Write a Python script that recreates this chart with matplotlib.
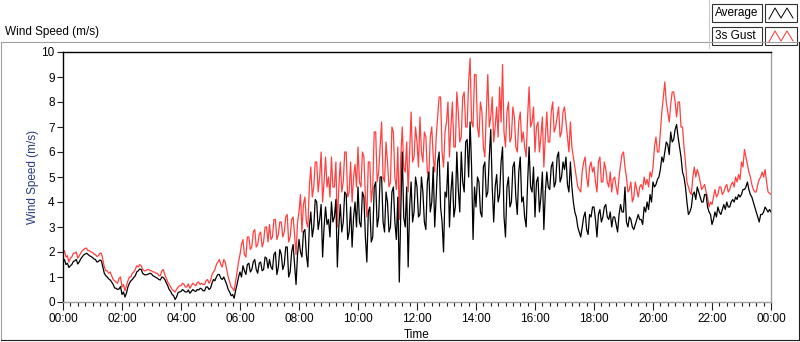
import numpy as np
import matplotlib
matplotlib.use("Agg")
import matplotlib.pyplot as plt
from matplotlib.patches import Rectangle
from matplotlib.lines import Line2D

# ---- data: one row per hour (samples evenly spread within the hour) ----
avg_rows = [
    [1.6, 1.7, 1.5, 1.55, 1.38, 1.45, 1.5, 1.62, 1.65, 1.7, 1.52, 1.6, 1.72, 1.8, 1.88, 1.92, 1.95, 1.9, 1.85, 1.82],
    [1.78, 1.72, 1.7, 1.6, 1.62, 1.68, 1.65, 1.4, 1.15, 1.05, 1.0, 0.92, 0.88, 0.8, 0.7, 0.56, 0.55, 0.5, 0.52, 0.62],
    [0.3, 0.4, 0.2, 0.35, 0.6, 0.75, 0.85, 0.9, 0.98, 1.05, 1.2, 1.25, 1.32, 1.3, 1.15, 1.1, 1.08, 1.1, 1.12, 1.15],
    [1.12, 1.05, 1.02, 0.98, 0.95, 0.9, 0.88, 1.0, 0.98, 0.9, 0.78, 0.65, 0.5, 0.42, 0.3, 0.25, 0.1, 0.2, 0.38, 0.4],
    [0.42, 0.5, 0.45, 0.4, 0.4, 0.48, 0.35, 0.42, 0.5, 0.45, 0.42, 0.5, 0.48, 0.55, 0.52, 0.45, 0.45, 0.6, 0.6, 0.5],
    [0.55, 0.75, 0.9, 0.85, 1.0, 1.1, 1.1, 0.95, 0.9, 1.0, 0.85, 0.7, 0.5, 0.4, 0.25, 0.3, 0.15, 0.45, 0.7, 1.0],
    [1.2, 1.0, 1.45, 1.25, 1.1, 1.5, 1.55, 1.2, 1.3, 1.6, 1.7, 1.3, 1.15, 1.55, 1.6, 1.25, 1.3, 1.8, 1.75, 1.35],
    [1.7, 1.4, 1.3, 1.9, 2.0, 1.1, 1.4, 2.1, 1.9, 1.3, 1.5, 2.2, 2.2, 1.0, 1.2, 2.0, 2.3, 1.5, 0.7, 1.9],
    [2.5, 2.0, 1.8, 2.8, 2.9, 1.9, 1.4, 3.0, 3.6, 2.6, 3.0, 4.1, 4.0, 2.9, 3.3, 3.9, 1.8, 3.0, 3.8, 3.1],
    [3.3, 2.6, 4.0, 3.2, 3.4, 4.1, 1.4, 3.0, 3.9, 2.8, 3.2, 4.4, 4.3, 2.5, 2.8, 3.8, 2.2, 3.4, 4.0, 3.0],
    [4.6, 3.2, 3.0, 4.4, 4.2, 2.6, 1.6, 3.6, 3.8, 2.4, 2.6, 4.6, 4.8, 3.0, 3.4, 5.0, 5.0, 3.2, 2.8, 4.4],
    [4.0, 2.8, 3.0, 4.4, 4.6, 3.2, 2.5, 4.2, 0.8, 3.6, 6.0, 3.4, 3.0, 4.6, 1.4, 3.8, 4.8, 3.2, 3.6, 5.0],
    [4.6, 3.4, 3.5, 5.0, 4.4, 3.2, 2.9, 4.8, 5.2, 3.6, 4.0, 5.4, 3.0, 4.2, 5.6, 6.0, 3.8, 3.2, 2.0, 4.4],
    [4.2, 5.6, 3.0, 4.4, 5.2, 3.4, 3.8, 6.0, 4.5, 3.6, 6.0, 4.8, 4.4, 6.4, 6.5, 5.0, 7.2, 5.4, 2.5, 4.6],
    [3.8, 5.0, 4.8, 3.6, 3.4, 5.4, 5.6, 4.2, 4.4, 5.8, 6.9, 4.6, 3.2, 4.6, 5.1, 4.0, 4.3, 5.6, 6.2, 3.4],
    [2.6, 4.6, 5.0, 3.8, 4.0, 5.4, 5.6, 4.2, 3.5, 5.2, 5.8, 4.0, 4.2, 3.4, 3.0, 4.8, 6.2, 4.6, 4.4, 5.4],
    [3.4, 4.8, 5.0, 3.6, 4.2, 5.2, 2.9, 4.4, 5.2, 4.6, 4.5, 5.4, 5.6, 4.6, 4.8, 5.8, 6.0, 4.8, 5.0, 5.6],
    [5.3, 5.8, 4.7, 4.4, 5.6, 4.6, 4.0, 3.6, 3.4, 3.0, 2.8, 2.6, 3.0, 3.4, 3.6, 2.9, 2.7, 3.5, 3.4, 3.8],
    [3.8, 3.3, 2.6, 3.5, 3.7, 3.2, 3.4, 3.8, 3.9, 3.4, 3.3, 3.6, 3.0, 3.4, 3.4, 3.1, 2.8, 3.5, 3.9, 3.6],
    [3.6, 4.6, 3.2, 3.0, 3.4, 3.3, 3.0, 2.9, 3.1, 3.3, 3.5, 3.3, 3.3, 3.1, 3.8, 3.6, 4.0, 3.7, 4.3, 4.0],
    [4.8, 4.6, 4.7, 4.9, 5.0, 5.3, 5.8, 5.6, 6.0, 6.4, 6.3, 5.9, 6.8, 6.4, 6.5, 6.9, 7.1, 6.6, 6.2, 5.8],
    [5.2, 5.0, 4.6, 4.0, 3.5, 3.6, 3.8, 4.3, 4.4, 4.1, 4.6, 4.4, 4.2, 4.0, 4.0, 4.3, 4.3, 3.8, 3.6, 3.5],
    [3.1, 3.3, 3.6, 3.4, 3.8, 3.6, 3.5, 3.7, 3.9, 3.7, 4.0, 3.8, 3.8, 4.0, 4.1, 4.0, 4.2, 4.1, 4.3, 4.2],
    [4.3, 4.5, 4.5, 4.6, 4.8, 4.5, 4.3, 4.2, 4.0, 3.8, 3.6, 3.4, 3.2, 3.5, 3.5, 3.6, 3.8, 3.7, 3.6, 3.7],
    [3.6],
]
gust_rows = [
    [1.95, 2.05, 1.8, 1.85, 1.6, 1.75, 1.8, 1.95, 1.95, 2.0, 1.75, 1.85, 1.95, 2.05, 2.1, 2.15, 2.15, 2.05, 2.05, 2.0],
    [1.98, 1.92, 1.9, 1.82, 1.85, 1.95, 1.95, 1.7, 1.4, 1.25, 1.25, 1.15, 1.2, 1.05, 0.9, 0.85, 0.8, 0.75, 0.95, 1.0],
    [0.6, 0.7, 0.45, 0.65, 0.85, 1.0, 1.0, 1.15, 1.2, 1.3, 1.45, 1.4, 1.5, 1.45, 1.3, 1.25, 1.25, 1.3, 1.3, 1.25],
    [1.25, 1.2, 1.2, 1.15, 1.15, 1.05, 1.05, 1.25, 1.3, 1.1, 0.95, 0.8, 0.7, 0.6, 0.5, 0.45, 0.4, 0.5, 0.6, 0.65],
    [0.65, 0.75, 0.7, 0.6, 0.6, 0.72, 0.55, 0.65, 0.75, 0.7, 0.65, 0.78, 0.8, 0.7, 0.75, 0.7, 0.7, 0.85, 0.9, 0.75],
    [0.85, 1.1, 1.2, 1.3, 1.5, 1.6, 1.7, 1.5, 1.4, 1.7, 1.6, 1.3, 1.0, 0.8, 0.6, 0.55, 0.45, 0.8, 1.2, 1.6],
    [1.9, 2.3, 2.5, 1.9, 1.8, 2.6, 2.6, 2.1, 2.2, 2.8, 2.9, 2.2, 2.3, 2.7, 2.8, 2.2, 2.4, 3.0, 3.0, 2.4],
    [3.1, 2.5, 2.6, 3.3, 3.3, 2.5, 2.7, 3.2, 3.2, 2.6, 2.8, 3.4, 3.5, 2.4, 2.6, 3.3, 3.4, 2.7, 1.9, 3.2],
    [3.6, 4.3, 2.8, 3.9, 4.2, 3.2, 3.0, 4.6, 5.4, 4.2, 4.6, 5.6, 5.6, 4.4, 5.0, 6.0, 4.0, 4.8, 5.8, 4.6],
    [5.0, 4.2, 5.8, 4.6, 4.6, 5.6, 3.0, 4.6, 5.6, 4.4, 4.8, 6.0, 6.0, 4.2, 4.4, 5.6, 4.0, 5.0, 5.5, 4.6],
    [6.2, 4.8, 4.6, 6.0, 5.8, 4.2, 3.4, 5.6, 5.6, 4.0, 4.6, 6.8, 6.8, 4.8, 5.2, 6.2, 7.2, 5.0, 4.8, 6.4],
    [5.6, 4.6, 4.8, 7.0, 6.8, 5.0, 4.5, 6.2, 3.3, 5.8, 7.0, 5.4, 5.2, 6.4, 4.4, 6.0, 7.6, 5.6, 5.8, 7.0],
    [6.4, 5.4, 7.4, 6.0, 5.6, 6.8, 6.6, 5.2, 5.0, 6.6, 7.0, 5.8, 5.2, 6.6, 7.4, 8.2, 8.2, 6.0, 5.4, 6.8],
    [7.2, 8.0, 5.8, 7.0, 8.0, 6.2, 6.2, 8.4, 7.6, 6.4, 6.6, 8.2, 8.4, 7.0, 7.0, 8.8, 9.75, 7.2, 7.0, 9.1],
    [9.1, 7.0, 6.6, 8.0, 7.6, 6.2, 5.8, 7.6, 9.1, 7.0, 7.4, 8.2, 6.4, 7.0, 7.8, 6.6, 8.6, 7.2, 9.5, 6.8],
    [6.2, 7.6, 8.0, 6.4, 6.6, 7.8, 7.4, 6.2, 6.0, 7.2, 7.6, 6.4, 6.8, 6.2, 5.8, 7.4, 8.6, 7.0, 7.2, 7.8],
    [6.0, 7.0, 7.2, 6.0, 6.6, 7.4, 5.4, 6.6, 7.6, 6.4, 6.4, 7.6, 8.0, 6.8, 7.0, 7.4, 7.8, 6.6, 6.8, 7.6],
    [7.8, 7.2, 6.6, 6.0, 7.2, 6.2, 5.8, 5.4, 5.0, 4.6, 4.5, 4.4, 5.2, 5.6, 5.8, 5.0, 4.6, 5.4, 5.6, 5.2],
    [5.4, 4.8, 4.4, 5.6, 5.8, 4.8, 4.8, 5.6, 5.3, 4.8, 4.6, 5.2, 4.4, 4.9, 5.0, 4.6, 4.3, 5.0, 5.5, 5.9],
    [6.0, 5.4, 5.0, 4.4, 4.5, 4.8, 4.0, 4.2, 4.8, 4.5, 4.2, 4.6, 4.7, 4.5, 5.0, 4.7, 4.9, 4.6, 5.2, 5.0],
    [5.4, 6.2, 6.6, 6.0, 6.0, 6.8, 7.6, 8.2, 8.8, 8.0, 7.6, 7.2, 7.9, 8.4, 8.4, 8.0, 7.4, 8.0, 8.0, 7.0],
    [7.0, 6.2, 5.6, 4.8, 4.6, 4.4, 4.3, 5.0, 5.4, 5.0, 5.3, 5.1, 4.8, 4.5, 4.6, 4.7, 4.4, 4.2, 3.8, 4.0],
    [3.9, 4.2, 4.5, 4.2, 4.3, 4.6, 4.6, 4.3, 4.4, 4.6, 4.7, 4.4, 4.5, 4.7, 4.8, 4.6, 5.0, 4.8, 5.1, 4.9],
    [5.6, 5.4, 6.1, 5.8, 5.5, 5.2, 5.0, 4.7, 4.5, 4.4, 4.4, 4.7, 4.9, 5.0, 5.2, 5.0, 5.3, 4.8, 4.4, 4.35],
    [4.3],
]

def flatten(rows):
    t, v = [], []
    for hour, row in enumerate(rows):
        n = len(row)
        for k, val in enumerate(row):
            t.append(hour + k / max(n, 1))
            v.append(val)
    return np.array(t), np.array(v)

t_avg, avg_speed = flatten(avg_rows)
t_gust, gust_speed = flatten(gust_rows)

tick_hours = list(range(0, 25, 2))
tick_labels = ["00:00", "02:00", "04:00", "06:00", "08:00", "10:00", "12:00",
               "14:00", "16:00", "18:00", "20:00", "22:00", "00:00"]

# ---- figure ----
W, H = 800, 342
fig = plt.figure(figsize=(W / 100, H / 100), dpi=100)
fig.patch.set_facecolor("white")
FONT = ["Liberation Sans", "DejaVu Sans"]
plt.rcParams["font.family"] = FONT

def fx(px):
    return px / W

def fy(py):
    return 1 - py / H

# outer panel frame
fig.add_artist(Line2D([fx(1), fx(798)], [fy(42), fy(42)], color="#a0a0a0", lw=0.8))
fig.add_artist(Line2D([fx(1), fx(1)], [fy(42), fy(340)], color="#a0a0a0", lw=0.8))
fig.add_artist(Line2D([fx(1), fx(799)], [fy(340), fy(340)], color="#202020", lw=0.8))
fig.add_artist(Line2D([fx(799), fx(799)], [fy(42), fy(340)], color="#202020", lw=0.8))

fig.text(fx(5), fy(32), "Wind Speed (m/s)", fontsize=8.5, ha="left", va="center")

# legend
def legend_entry(y0, label, color):
    fig.add_artist(Rectangle((fx(712), fy(y0 + 18)), fx(50), 18 / H, transform=fig.transFigure,
                             facecolor="white", edgecolor="#303030", lw=0.8))
    fig.text(fx(715), fy(y0 + 9), label, fontsize=8.5, ha="left", va="center")
    fig.add_artist(Rectangle((fx(765), fy(y0 + 18)), fx(32), 18 / H, transform=fig.transFigure,
                             facecolor="white", edgecolor="#303030", lw=0.8))
    xs = [769, 775, 781, 787, 793]
    ys = [y0 + 15, y0 + 4, y0 + 14, y0 + 4, y0 + 14]
    fig.add_artist(Line2D([fx(x) for x in xs], [fy(y) for y in ys], color=color, lw=0.7))

legend_entry(4, "Average", "black")
legend_entry(27, "3s Gust", "#ff3030")
fig.add_artist(Line2D([fx(709), fx(709)], [fy(0), fy(48)], color="#c8c8c8", lw=0.8))

# plot area
ax = fig.add_axes([fx(63), fy(302), fx(771) - fx(63), fy(52) - fy(302)])
ax.plot(t_gust, gust_speed, color="#ff4040", lw=0.9, zorder=2)
ax.plot(t_avg, avg_speed, color="black", lw=0.9, zorder=3)

ax.set_xlim(0, 24)
ax.set_ylim(0, 10)
ax.set_yticks(range(0, 11))
ax.set_xticks(tick_hours)
ax.set_xticklabels(tick_labels)
ax.set_xticks(np.arange(0, 24.01, 0.25), minor=True)
ax.tick_params(axis="both", which="major", labelsize=8.5, direction="out", width=0.8, color="#202020")
ax.tick_params(axis="x", which="major", length=6, pad=2)
ax.tick_params(axis="x", which="minor", length=3, width=0.8, color="#202020")
ax.tick_params(axis="y", which="major", length=4, pad=2)
for s in ("top", "left"):
    ax.spines[s].set_color("black")
    ax.spines[s].set_linewidth(1.0)
for s in ("bottom", "right"):
    ax.spines[s].set_color("#a0a0a0")
    ax.spines[s].set_linewidth(1.0)

ax.set_ylabel("Wind Speed (m/s)", fontsize=8.5, color="#2a3a80", labelpad=2)
ax.set_xlabel("Time", fontsize=8.5, labelpad=3)

fig.savefig("out.png", dpi=100)
